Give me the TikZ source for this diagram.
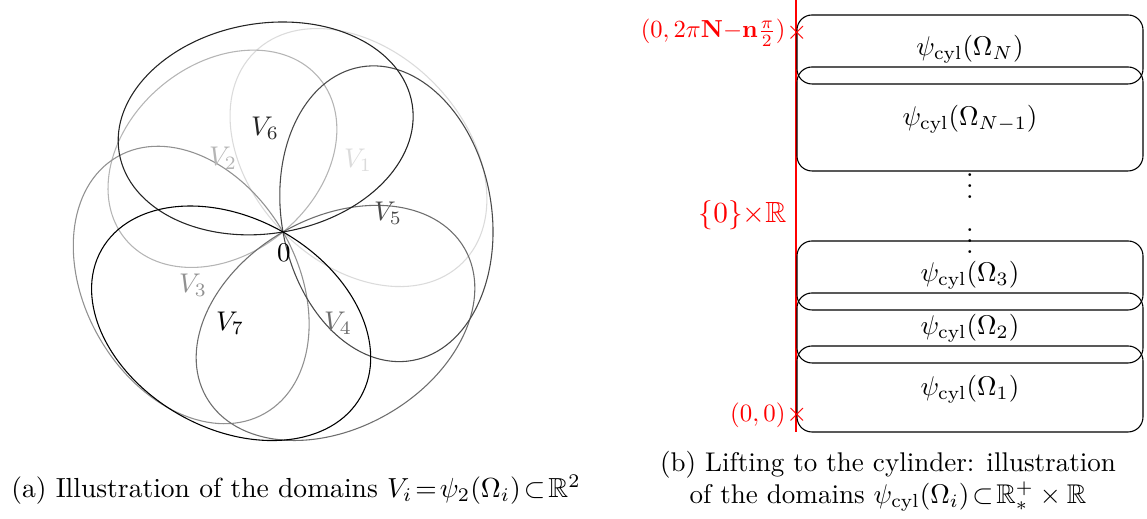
\documentclass[tikz,border=0pt]{standalone}
\usepackage{amsmath,amssymb}
\begin{document}
\begin{tikzpicture}[x=0.013cm,y=0.013cm,
  petal/.style={line width=0.4pt},
  vlab/.style={inner sep=0pt},
  dom/.style={draw=black, rounded corners=0.195cm, line width=0.4pt},
  redlab/.style={text=red, inner sep=0pt, anchor=east},
  cross/.style={text=red, inner sep=0pt}]
\useasboundingbox (0,0) rectangle (1147,519);
% ---------- (a) petals ----------
\coordinate (O) at (283,287);
\begin{scope}[shift={(O)}]
  \foreach \ang/\ra/\rb/\c in {44.6/148/106/14, 129.6/126/95/29, 210/148/106/43,
      300/149/105/57, 10/149/105/71, 99.5/148.5/105/86, 240.4/149/105/100}
    \draw[petal, black!\c, rotate=\ang] (\rb,0) ellipse [x radius=\rb, y radius=\ra];
\end{scope}
\node[vlab, text=black!14] (v1) at (358,359) {$V_1$};
\node[vlab, text=black!29] (v2) at (223,361) {$V_2$};
\node[vlab, text=black!43] (v3) at (193,234) {$V_3$};
\node[vlab, text=black!57] (v4) at (338,196) {$V_4$};
\node[vlab, text=black!71] (v5) at (388,306) {$V_5$};
\node[vlab, text=black!86] (v6) at (265,391) {$V_6$};
\node[vlab, text=black] (v7) at (230,196) {$V_7$};
\node[vlab] (zero) at (284,266) {$0$};
\node[scale=1.02] (capa) at (296,29) {(a) Illustration of the domains $V_i\!=\!\psi_2(\Omega_i)\!\subset\!\mathbb{R}^2$};
% ---------- (b) cylinder ----------
\coordinate (axtop) at (796,519);
\coordinate (axbot) at (796,87);
\draw[red, line width=0.4pt] (axtop) -- (axbot);
\draw[dom] (797,435) rectangle (1143,504);
\draw[dom] (797,348) rectangle (1143,452);
\draw[dom] (797,209) rectangle (1143,278);
\draw[dom] (797,156) rectangle (1143,226);
\draw[dom] (797,87)  rectangle (1143,173);
\node (tN)  at (970,469.5) {$\psi_{\mathrm{cyl}}(\Omega_N)$};
\node (tN1) at (970,400) {$\psi_{\mathrm{cyl}}(\Omega_{N-1})$};
\node (t3)  at (970,243.5) {$\psi_{\mathrm{cyl}}(\Omega_3)$};
\node (t2)  at (970,191) {$\psi_{\mathrm{cyl}}(\Omega_2)$};
\node (t1)  at (970,130) {$\psi_{\mathrm{cyl}}(\Omega_1)$};
\node[inner sep=0pt] (d1) at (970,341) {$\vdots$};
\node[inner sep=0pt] (d2) at (970,286) {$\vdots$};
\node[cross] (xN) at (797,486) {$\times$};
\node[cross] (x0) at (797,104) {$\times$};
\node[redlab, scale=0.91] (lN) at (xN.west) {$(0,2\pi\mathbf{N}{-}\mathbf{n}\tfrac{\pi}{2})$};
\node[redlab, scale=0.92] (l0) at (x0.west) {$(0,0)$};
\node[redlab, scale=1.08] (ax) at (787,304) {$\{0\}{\times}\mathbb{R}$};
\node[align=center] (capb) at (888,38) {(b) Lifting to the cylinder: illustration\\ of the domains $\psi_{\mathrm{cyl}}(\Omega_i)\!\subset\!\mathbb{R}_*^+\times\mathbb{R}$};
\end{tikzpicture}
\end{document}
